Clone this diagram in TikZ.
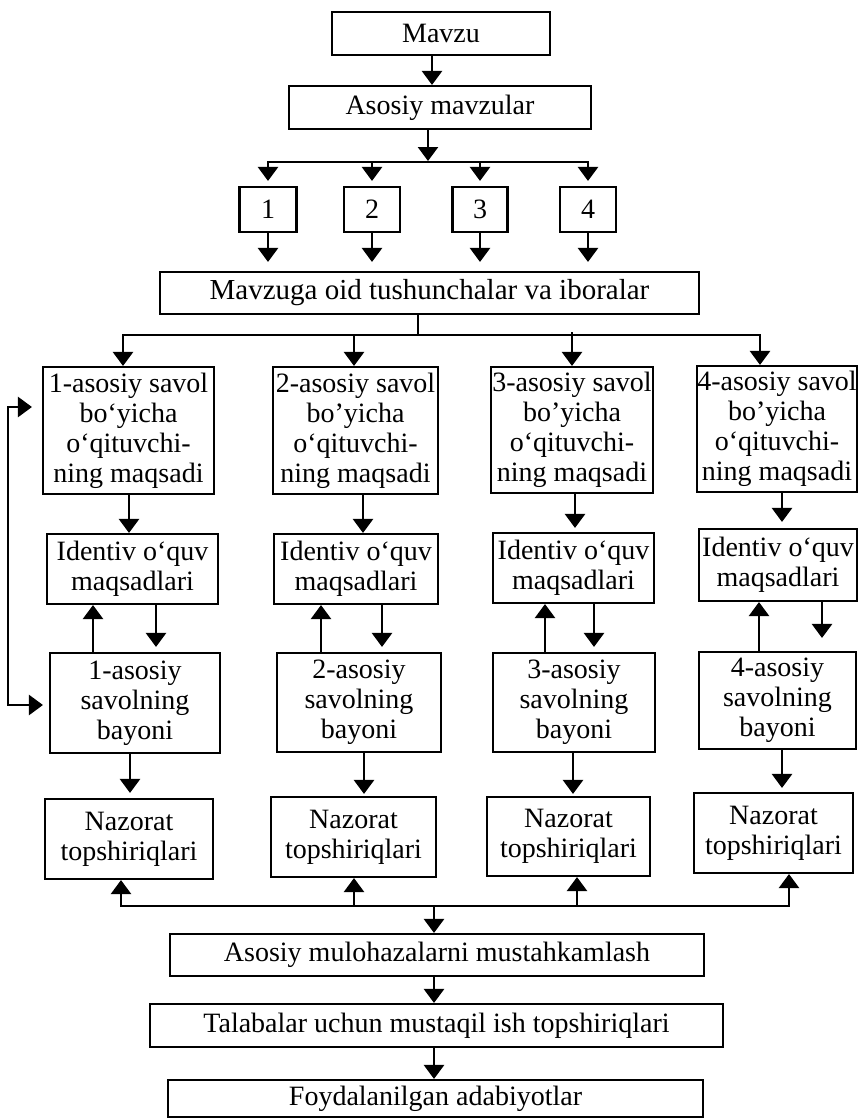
\documentclass[tikz,border=0pt]{standalone}
\usepackage{fontspec}
\setmainfont{Liberation Serif}
\usetikzlibrary{arrows.meta}
\begin{document}
\begin{tikzpicture}[x=1pt,y=-1pt,
  box/.style={draw, line width=2.1pt, inner sep=0pt, align=center, font=\fontsize{28}{30}\selectfont},
  arr/.style={line width=2.5pt, -{Triangle[width=20pt,length=14pt]}},
  ln/.style={line width=2.5pt, line cap=rect}]
\fill[white] (0,0) rectangle (858,1119);
\useasboundingbox (0,0) rectangle (858,1119);
% top
\node[box, minimum width=218pt, minimum height=43pt] (mavzu) at (441,33.5) {Mavzu};
\node[box, minimum width=302pt, minimum height=43pt] (asosiy) at (440,107.5) {Asosiy mavzular};
\node[box, minimum width=57pt, minimum height=45pt] (n1) at (268,209.5) {1};
\node[box, minimum width=56pt, minimum height=45pt] (n2) at (372,209.5) {2};
\node[box, minimum width=55pt, minimum height=45pt] (n3) at (480,209.5) {3};
\node[box, minimum width=56pt, minimum height=45pt] (n4) at (588,209.5) {4};
\node[box, minimum width=539pt, minimum height=42pt, font=\fontsize{29}{30}\selectfont] (mavzuga) at (429.5,293) {Mavzuga oid tushunchalar va iboralar};
% question boxes
\node[box, minimum width=171pt, minimum height=127pt] (q1) at (128.5,430.5) {1-asosiy savol\\bo‘yicha\\o‘qituvchi-\\ning maqsadi};
\node[box, minimum width=165pt, minimum height=127pt] (q2) at (355.5,430.5) {2-asosiy savol\\bo’yicha\\o‘qituvchi-\\ning maqsadi};
\node[box, minimum width=162pt, minimum height=126pt] (q3) at (572,430) {3-asosiy savol\\bo’yicha\\o‘qituvchi-\\ning maqsadi};
\node[box, minimum width=160pt, minimum height=126pt] (q4) at (777,429) {4-asosiy savol\\bo’yicha\\o‘qituvchi-\\ning maqsadi};
% identiv
\node[box, minimum width=171pt, minimum height=70pt] (i1) at (132.5,569) {Identiv o‘quv\\maqsadlari};
\node[box, minimum width=164pt, minimum height=70pt] (i2) at (356,569) {Identiv o‘quv\\maqsadlari};
\node[box, minimum width=161pt, minimum height=70pt] (i3) at (573.5,568) {Identiv o‘quv\\maqsadlari};
\node[box, minimum width=158pt, minimum height=72pt] (i4) at (778,565) {Identiv o‘quv\\maqsadlari};
% bayoni
\node[box, minimum width=170pt, minimum height=100pt] (b1) at (135,703) {1-asosiy\\savolning\\bayoni};
\node[box, minimum width=164pt, minimum height=99pt] (b2) at (359,702.5) {2-asosiy\\savolning\\bayoni};
\node[box, minimum width=162pt, minimum height=99pt] (b3) at (574,702.5) {3-asosiy\\savolning\\bayoni};
\node[box, minimum width=157pt, minimum height=97pt] (b4) at (777.5,700.5) {4-asosiy\\savolning\\bayoni};
% nazorat
\node[box, minimum width=168pt, minimum height=80pt] (z1) at (129,839) {Nazorat\\topshiriqlari};
\node[box, minimum width=165pt, minimum height=80pt] (z2) at (353.5,837) {Nazorat\\topshiriqlari};
\node[box, minimum width=163pt, minimum height=79pt] (z3) at (568.5,836.5) {Nazorat\\topshiriqlari};
\node[box, minimum width=159pt, minimum height=80pt] (z4) at (773.5,833) {Nazorat\\topshiriqlari};
% bottom
\node[box, minimum width=534pt, minimum height=42pt] (m) at (437,955) {Asosiy mulohazalarni mustahkamlash};
\node[box, minimum width=573pt, minimum height=43pt] (t) at (436.5,1025.5) {Talabalar uchun mustaqil ish topshiriqlari};
\node[box, minimum width=535pt, minimum height=37pt] (f) at (435.5,1098.5) {Foydalanilgan adabiyotlar};

% coordinates
\coordinate (hl) at (0,162);

% top connectors
\draw[arr] (mavzu.south -| 432,0) -- (asosiy.north -| 432,0);
\draw[arr] (asosiy.south -| 428,0) -- (428,161);
\draw[ln] (n1.north |- hl) -- (n4.north |- hl);
\foreach \n in {n1,n2,n3,n4} {
  \draw[arr, shorten >=5pt] (\n.north |- hl) -- (\n.north);
  \draw[arr, shorten >=9pt] (\n.south) -- (\n.south |- mavzuga.north);
}
% split to questions
\draw[ln] (mavzuga.south -| 418,0) -- (418,335);
\draw[ln] (123,335) -- (760,335);
\draw[arr] (123,335) -- (q1.north -| 123,0);
\draw[arr] (354,335) -- (q2.north -| 354,0);
\draw[arr] (572,332) -- (q3.north -| 572,0);
\draw[arr] (760,335) -- (q4.north -| 760,0);
% question -> identiv
\draw[arr] (q1.south -| 129,0) -- (i1.north -| 129,0);
\draw[arr] (q2.south -| 363,0) -- (i2.north -| 363,0);
\draw[arr, shorten >=4pt] (q3.south -| 575,0) -- (i3.north -| 575,0);
\draw[arr, shorten >=6pt] (q4.south -| 782,0) -- (i4.north -| 782,0);
% bayoni <-> identiv
\draw[arr] (b1.north -| 93,0) -- (i1.south -| 93,0);
\draw[arr] (b2.north -| 321,0) -- (i2.south -| 321,0);
\draw[arr] (b3.north -| 545,0) -- (i3.south -| 545,0);
\draw[arr] (b4.north -| 759,0) -- (i4.south -| 759,0);
\draw[arr, shorten >=5pt] (i1.south -| 156,0) -- (b1.north -| 156,0);
\draw[arr, shorten >=5pt] (i2.south -| 382,0) -- (b2.north -| 382,0);
\draw[arr, shorten >=5pt] (i3.south -| 594,0) -- (b3.north -| 594,0);
\draw[arr, shorten >=13pt] (i4.south -| 822,0) -- (b4.north -| 822,0);
% bayoni -> nazorat
\draw[arr, shorten >=5pt] (b1.south -| 130,0) -- (z1.north -| 130,0);
\draw[arr, shorten >=2pt] (b2.south -| 364,0) -- (z2.north -| 364,0);
\draw[arr, shorten >=2pt] (b3.south -| 573,0) -- (z3.north -| 573,0);
\draw[arr, shorten >=4pt] (b4.south -| 782,0) -- (z4.north -| 782,0);
% collector
\draw[ln] (121,906) -- (789,906);
\draw[arr] (121,906) -- (z1.south -| 121,0);
\draw[arr] (354,906) -- (z2.south -| 354,0);
\draw[arr] (577,906) -- (z3.south -| 577,0);
\draw[arr] (789,906) -- (z4.south -| 789,0);
\draw[arr] (434,906) -- (m.north -| 434,0);
\draw[arr] (m.south -| 434,0) -- (t.north -| 434,0);
\draw[arr] (t.south -| 434,0) -- (f.north -| 434,0);
% feedback loop
\draw[line width=2.5pt, {Triangle[width=20pt,length=14pt]}-{Triangle[width=20pt,length=14pt]}, shorten <=10pt, shorten >=6pt]
  (q1.west |- 0,407) -| (8,556) |- (b1.west |- 0,705);
\end{tikzpicture}
\end{document}
